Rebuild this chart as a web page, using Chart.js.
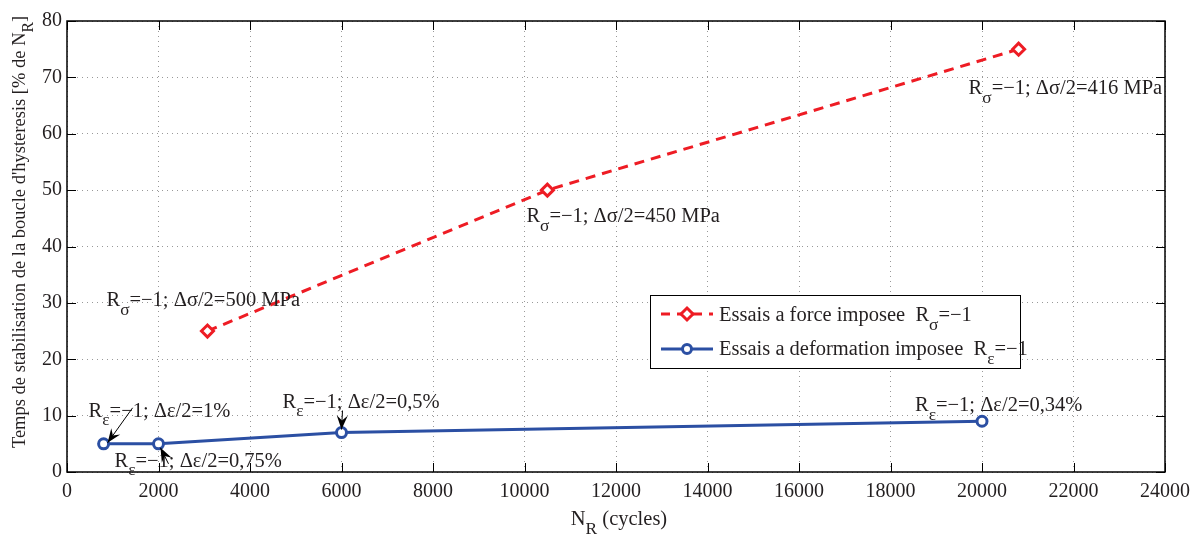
<!DOCTYPE html>
<html>
<head>
<meta charset="utf-8">
<script src="https://cdn.jsdelivr.net/npm/chart.js@4.4.1/dist/chart.umd.min.js"></script>
<style>
  html, body { margin: 0; padding: 0; background: #fff; }
  #wrap { width: 1201px; height: 534px; position: relative; }
</style>
</head>
<body>
<div id="wrap"><canvas id="c" width="1201" height="534"></canvas></div>
<script>
// ---- Data ----
const forceX = [3070, 10500, 20800];
const forceY = [25, 50, 75];
const deformX = [800, 2000, 6000, 20000];
const deformY = [5, 5, 7, 9];
const xTicks = [0, 2000, 4000, 6000, 8000, 10000, 12000, 14000, 16000, 18000, 20000, 22000, 24000];
const yTicks = [0, 10, 20, 30, 40, 50, 60, 70, 80];
const forceLabels = ['Δσ/2=500 MPa', 'Δσ/2=450 MPa', 'Δσ/2=416 MPa'];
const deformLabels = ['Δε/2=1%', 'Δε/2=0,75%', 'Δε/2=0,5%', 'Δε/2=0,34%'];
const legendLabels = ['Essais a force imposee  R', 'Essais a deformation imposee  R'];

const RED = '#ee1c24';
const BLUE = '#2b4fa3';
const FONT = '"Liberation Serif", "DejaVu Serif", serif';

function rich(ctx, x, y, segs, size) {
  let cx = x;
  for (const s of segs) {
    if (s.sub) {
      ctx.font = (size * 0.85).toFixed(1) + 'px ' + FONT;
      ctx.fillText(s.t, cx, y + size * 0.42);
    } else {
      ctx.font = size + 'px ' + FONT;
      ctx.fillText(s.t, cx, y);
    }
    cx += ctx.measureText(s.t).width;
  }
  return cx - x;
}
function richWidth(ctx, segs, size) {
  let w = 0;
  for (const s of segs) {
    ctx.font = (s.sub ? (size * 0.85).toFixed(1) : size) + 'px ' + FONT;
    w += ctx.measureText(s.t).width;
  }
  return w;
}
function arrow(ctx, x1, y1, x2, y2) {
  ctx.save();
  ctx.strokeStyle = '#000'; ctx.fillStyle = '#000'; ctx.lineWidth = 1;
  ctx.beginPath(); ctx.moveTo(x1, y1); ctx.lineTo(x2, y2); ctx.stroke();
  const a = Math.atan2(y2 - y1, x2 - x1), L = 14, W = 5.5;
  ctx.beginPath();
  ctx.moveTo(x2, y2);
  ctx.lineTo(x2 - L * Math.cos(a) + W * Math.sin(a), y2 - L * Math.sin(a) - W * Math.cos(a));
  ctx.lineTo(x2 - L * 0.65 * Math.cos(a), y2 - L * 0.65 * Math.sin(a));
  ctx.lineTo(x2 - L * Math.cos(a) - W * Math.sin(a), y2 - L * Math.sin(a) + W * Math.cos(a));
  ctx.closePath(); ctx.fill();
  ctx.restore();
}

const decor = {
  id: 'decor',
  afterDraw(chart) {
    const ctx = chart.ctx, xs = chart.scales.x, ys = chart.scales.y, a = chart.chartArea;
    ctx.save();
    // inward ticks on all four sides
    ctx.strokeStyle = '#000'; ctx.lineWidth = 1;
    const T = 9;
    for (const v of xTicks) {
      const px = Math.round(xs.getPixelForValue(v)) + 0.5;
      ctx.beginPath(); ctx.moveTo(px, a.bottom); ctx.lineTo(px, a.bottom - T);
      ctx.moveTo(px, a.top); ctx.lineTo(px, a.top + T); ctx.stroke();
    }
    for (const v of yTicks) {
      const py = Math.round(ys.getPixelForValue(v)) + 0.5;
      ctx.beginPath(); ctx.moveTo(a.left, py); ctx.lineTo(a.left + T, py);
      ctx.moveTo(a.right, py); ctx.lineTo(a.right - T, py); ctx.stroke();
    }
    // box
    ctx.lineWidth = 1.5;
    ctx.strokeRect(a.left, a.top, a.right - a.left, a.bottom - a.top);

    ctx.fillStyle = '#231f20';
    ctx.textBaseline = 'alphabetic';
    ctx.textAlign = 'left';
    const S = 20.5;
    // force annotations (offsets relative to their points)
    const fOff = [[-101, -25], [-21, 32], [-50, 45]];
    forceX.forEach((x, i) => {
      const px = xs.getPixelForValue(x), py = ys.getPixelForValue(forceY[i]);
      rich(ctx, px + fOff[i][0], py + fOff[i][1],
        [{t: 'R'}, {t: 'σ', sub: true}, {t: '=−1; ' + forceLabels[i]}], S);
    });
    // deformation annotations
    const dOff = [[-15, -27], [-44, 23], [-59, -25], [-67, -10]];
    deformX.forEach((x, i) => {
      const px = xs.getPixelForValue(x), py = ys.getPixelForValue(deformY[i]);
      rich(ctx, px + dOff[i][0], py + dOff[i][1],
        [{t: 'R'}, {t: 'ε', sub: true}, {t: '=−1; ' + deformLabels[i]}], S);
    });
    // arrows
    const arr = [[0, 29, -36, 4, -1], [1, 10, 20, 2, 4], [2, 1, -22, 0, -3]];
    for (const [i, tx, ty, hx, hy] of arr) {
      const px = xs.getPixelForValue(deformX[i]), py = ys.getPixelForValue(deformY[i]);
      arrow(ctx, px + tx, py + ty, px + hx, py + hy);
    }

    // legend
    const lx = 650.5, ly = 295.5, lw = 370, lh = 73;
    ctx.fillStyle = '#fff';
    ctx.fillRect(lx, ly, lw, lh);
    ctx.strokeStyle = '#000'; ctx.lineWidth = 1;
    ctx.strokeRect(lx, ly, lw, lh);
    // red sample
    ctx.strokeStyle = RED; ctx.lineWidth = 3; ctx.setLineDash([9, 7]);
    ctx.beginPath(); ctx.moveTo(661, 314); ctx.lineTo(713, 314); ctx.stroke();
    ctx.setLineDash([]);
    ctx.fillStyle = '#fff';
    ctx.beginPath(); ctx.moveTo(687, 308); ctx.lineTo(693, 314); ctx.lineTo(687, 320); ctx.lineTo(681, 314); ctx.closePath();
    ctx.fill(); ctx.stroke();
    // blue sample
    ctx.strokeStyle = BLUE;
    ctx.beginPath(); ctx.moveTo(661, 349); ctx.lineTo(713, 349); ctx.stroke();
    ctx.beginPath(); ctx.arc(687, 349, 4.5, 0, Math.PI * 2); ctx.fill(); ctx.stroke();
    ctx.fillStyle = '#231f20';
    rich(ctx, 719, 321, [{t: legendLabels[0]}, {t: 'σ', sub: true}, {t: '=−1'}], S);
    rich(ctx, 719, 355, [{t: legendLabels[1]}, {t: 'ε', sub: true}, {t: '=−1'}], S);

    // axis titles
    const ySegs = [{t: "Temps de stabilisation de la boucle d'hysteresis [% de N"}, {t: 'R', sub: true}, {t: ']'}];
    const yw = richWidth(ctx, ySegs, 18.5);
    ctx.save();
    ctx.translate(25, 232);
    ctx.rotate(-Math.PI / 2);
    rich(ctx, -yw / 2, 0, ySegs, 18.5);
    ctx.restore();
    const xSegs = [{t: 'N'}, {t: 'R', sub: true}, {t: ' (cycles)'}];
    const xw = richWidth(ctx, xSegs, 20.5);
    rich(ctx, 619 - xw / 2, 525, xSegs, 20.5);
    ctx.restore();
  }
};

new Chart(document.getElementById('c'), {
  type: 'scatter',
  plugins: [decor],
  data: {
    datasets: [
      {
        label: 'force',
        data: forceX.map((x, i) => ({x: x, y: forceY[i]})),
        showLine: true,
        borderColor: RED,
        borderWidth: 3,
        borderDash: [10, 7],
        pointStyle: 'rectRot',
        pointRadius: 6,
        pointBorderWidth: 3,
        pointBorderColor: RED,
        pointBackgroundColor: '#fff'
      },
      {
        label: 'deformation',
        data: deformX.map((x, i) => ({x: x, y: deformY[i]})),
        showLine: true,
        borderColor: BLUE,
        borderWidth: 3,
        pointStyle: 'circle',
        pointRadius: 5,
        pointBorderWidth: 3,
        pointBorderColor: BLUE,
        pointBackgroundColor: '#fff'
      }
    ]
  },
  options: {
    responsive: false,
    animation: false,
    layout: { padding: { left: 0, right: 36, top: 21, bottom: 0 } },
    plugins: { legend: { display: false }, tooltip: { enabled: false } },
    scales: {
      x: {
        type: 'linear', min: 0, max: 24000,
        afterBuildTicks: (s) => { s.ticks = xTicks.map(v => ({value: v})); },
        afterFit: (s) => { s.height = 62; },
        ticks: { font: { family: FONT, size: 20 }, color: '#231f20', padding: 8, maxRotation: 0, autoSkip: false,
                 callback: (v) => String(v) },
        grid: { color: '#999', lineWidth: 1, drawTicks: false },
        border: { display: false, dash: [1, 4] }
      },
      y: {
        type: 'linear', min: 0, max: 80,
        afterBuildTicks: (s) => { s.ticks = yTicks.map(v => ({value: v})); },
        afterFit: (s) => { s.width = 67; },
        ticks: { font: { family: FONT, size: 20 }, color: '#231f20', padding: 5, autoSkip: false,
                 callback: (v) => String(v) },
        grid: { color: '#999', lineWidth: 1, drawTicks: false },
        border: { display: false, dash: [1, 4] }
      }
    }
  }
});
</script>
</body>
</html>
